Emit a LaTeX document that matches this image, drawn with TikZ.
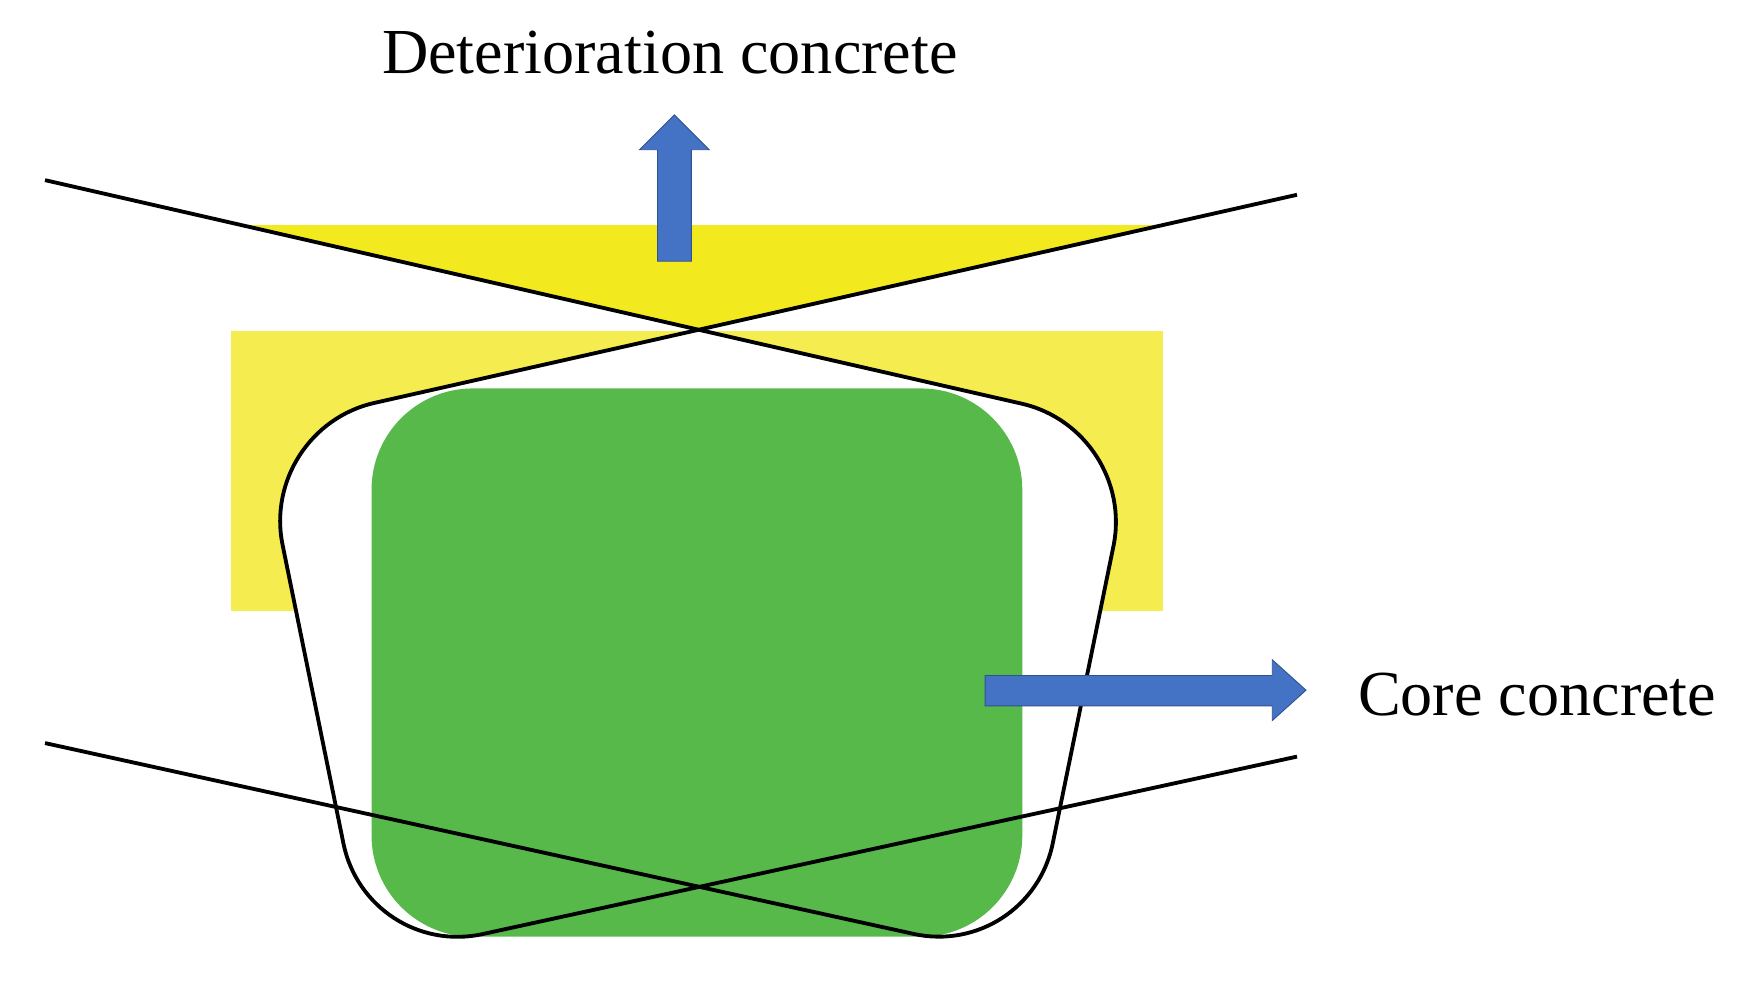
\documentclass[tikz,border=0pt]{standalone}
\usepackage{fontspec}
\setmainfont{Liberation Serif}
\definecolor{ylight}{RGB}{245,236,80}
\definecolor{ybright}{RGB}{242,234,30}
\definecolor{cgreen}{RGB}{88,185,75}
\definecolor{cblue}{RGB}{68,114,196}
\definecolor{cblued}{RGB}{47,82,143}
\begin{document}
\begin{tikzpicture}[x=1pt,y=-1pt,
  ln/.style={line width=3.4pt,black},
  blue arrow/.style={fill=cblue,draw=cblued,line width=0.8pt},
  lbl/.style={font=\fontsize{57}{66}\selectfont,inner sep=0pt}]
\useasboundingbox (0,0) rectangle (1565,872);
\fill[ylight] (205,294) rectangle (1033,543);
\fill[ybright] (215,200) -- (1032,200) -- (620,293) -- cycle;
\coordinate (X) at (620,293);
\coordinate (TR) at (1010,382);
\coordinate (BR) at (914,852);
\coordinate (BL) at (326,852);
\coordinate (TL) at (230,381);
\fill[white] (X) [rounded corners=105pt] -- (TR) -- (BR) -- (BL) -- (TL) [sharp corners] -- cycle;
\fill[cgreen,rounded corners=90pt] (330,345) rectangle (908,832);
\draw[ln] (40,160) [rounded corners=105pt] -- (TR) -- (BR) [sharp corners] -- (40,660);
\draw[ln] (1152,173) [rounded corners=105pt] -- (TL) -- (BL) [sharp corners] -- (1152,672);
\node[lbl] (det) at (595,47) {Deterioration concrete};
\node[lbl,anchor=west] (core) at (1206,617) {Core concrete};
\draw[blue arrow] (584,232) -- (584,133) -- (568,133) -- (599,102) -- (630,133) -- (614,133) -- (614,232) -- cycle;
\draw[blue arrow] (875,600) -- (1130,600) -- (1130,586) -- (1160,613) -- (1130,640) -- (1130,627) -- (875,627) -- cycle;
\end{tikzpicture}
\end{document}
